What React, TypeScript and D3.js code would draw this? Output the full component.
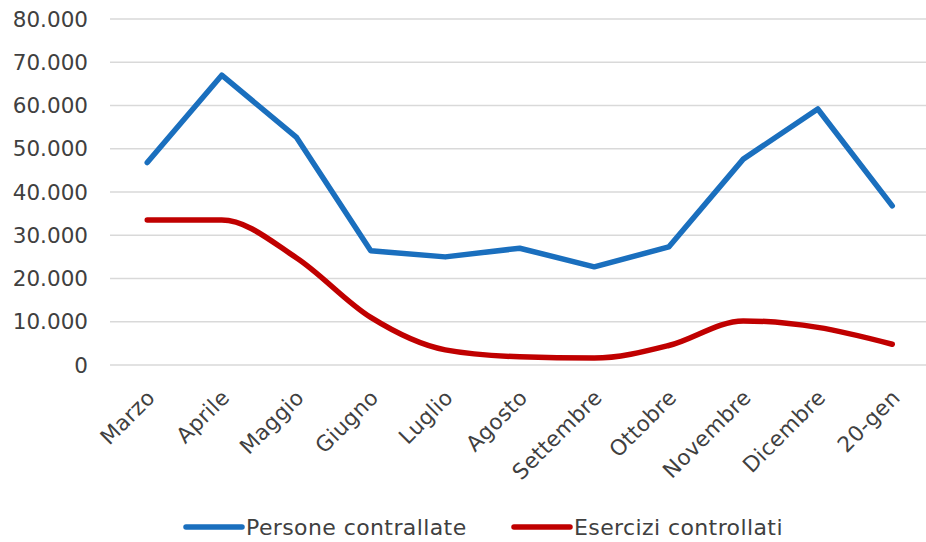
import React from "react";
import * as d3 from "d3";

const categories = ["Marzo", "Aprile", "Maggio", "Giugno", "Luglio", "Agosto", "Settembre", "Ottobre", "Novembre", "Dicembre", "20-gen"];
const persone = [46800, 67000, 52700, 26400, 25000, 27000, 22700, 27300, 47600, 59200, 36800];
const esercizi = [33500, 33500, 24800, 11000, 3500, 1900, 1600, 4500, 10200, 8700, 4800];
const yTicks = [0, 10000, 20000, 30000, 40000, 50000, 60000, 70000, 80000];
const seriesNames = ["Persone contrallate", "Esercizi controllati"];
const seriesColors = ["#1a6fbe", "#c00000"];

const W = 926;
const H = 542;
const FONT = "'DejaVu Sans', sans-serif";

export default function App() {
  const x = d3.scaleBand<string>().domain(categories).range([110, 929.5]);
  const y = d3.scaleLinear().domain([0, 80000]).range([365, 19]);
  const cx = (c: string) => (x(c) as number) + x.bandwidth() / 2;
  const fmt = (v: number) => (v === 0 ? "0" : d3.format(",")(v).replace(/,/g, "."));

  const lineStraight = d3
    .line<number>()
    .x((_, i) => cx(categories[i]))
    .y((d) => y(d));
  const lineSmooth = d3
    .line<number>()
    .x((_, i) => cx(categories[i]))
    .y((d) => y(d))
    .curve(d3.curveMonotoneX);

  const legendItems = [
    { name: seriesNames[0], color: seriesColors[0], x0: 186 },
    { name: seriesNames[1], color: seriesColors[1], x0: 514 },
  ];

  return (
    <svg width={W} height={H} style={{ position: "absolute", left: 0, top: 0, background: "#fff" }} fontFamily={FONT}>
      <rect width={W} height={H} fill="#fff" />
      {yTicks.map((t) => (
        <g key={t}>
          <line x1={110} x2={926} y1={y(t)} y2={y(t)} stroke="#d9d9d9" strokeWidth={1.5} />
          <text x={88} y={y(t)} dy="0.36em" textAnchor="end" fontSize={21.5} fill="#404040">
            {fmt(t)}
          </text>
        </g>
      ))}
      {categories.map((c) => (
        <text
          key={c}
          transform={`translate(${cx(c) + 9},${399}) rotate(-45)`}
          textAnchor="end"
          fontSize={21.5}
          letterSpacing={0.3}
          fill="#404040"
        >
          {c}
        </text>
      ))}
      <path d={lineStraight(persone) ?? ""} fill="none" stroke={seriesColors[0]} strokeWidth={5.5} strokeLinejoin="round" strokeLinecap="round" />
      <path d={lineSmooth(esercizi) ?? ""} fill="none" stroke={seriesColors[1]} strokeWidth={5.5} strokeLinejoin="round" strokeLinecap="round" />
      {legendItems.map((l) => (
        <g key={l.name}>
          <line x1={l.x0} x2={l.x0 + 56} y1={527} y2={527} stroke={l.color} strokeWidth={5.5} strokeLinecap="round" />
          <text x={l.x0 + 60} y={527} dy="0.36em" fontSize={22} letterSpacing={0.4} fill="#404040">
            {l.name}
          </text>
        </g>
      ))}
    </svg>
  );
}
